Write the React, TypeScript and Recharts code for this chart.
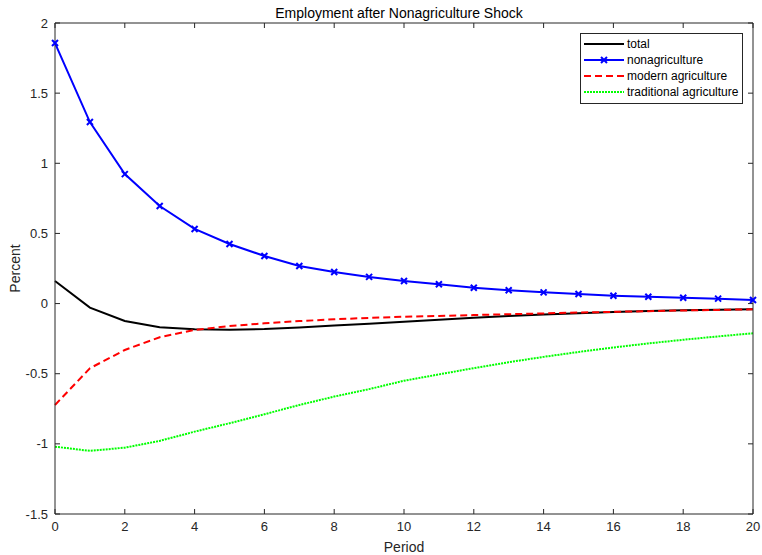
import React from 'react';
import { LineChart, Line, XAxis, YAxis, Legend } from 'recharts';

const periods = [0, 1, 2, 3, 4, 5, 6, 7, 8, 9, 10, 11, 12, 13, 14, 15, 16, 17, 18, 19, 20];
const total = [0.161, -0.029, -0.124, -0.169, -0.183, -0.186, -0.181, -0.17, -0.157, -0.143, -0.129, -0.115, -0.101, -0.089, -0.078, -0.069, -0.06, -0.053, -0.048, -0.044, -0.041];
const nonagriculture = [1.857, 1.294, 0.923, 0.695, 0.532, 0.425, 0.339, 0.268, 0.225, 0.19, 0.161, 0.138, 0.113, 0.095, 0.08, 0.068, 0.056, 0.049, 0.042, 0.035, 0.026];
const modernAgriculture = [-0.723, -0.461, -0.331, -0.24, -0.188, -0.16, -0.141, -0.125, -0.112, -0.102, -0.094, -0.088, -0.082, -0.076, -0.07, -0.064, -0.059, -0.054, -0.049, -0.045, -0.041];
const traditionalAgriculture = [-1.02, -1.05, -1.027, -0.979, -0.913, -0.853, -0.789, -0.723, -0.663, -0.61, -0.55, -0.505, -0.46, -0.418, -0.38, -0.345, -0.313, -0.284, -0.258, -0.234, -0.212];

const xTicks = [0, 2, 4, 6, 8, 10, 12, 14, 16, 18, 20];
const yTicks = [-1.5, -1, -0.5, 0, 0.5, 1, 1.5, 2];

const data = periods.map((p, i) => ({
    period: p,
    total: total[i],
    nonag: nonagriculture[i],
    modern: modernAgriculture[i],
    trad: traditionalAgriculture[i],
}));

const series = [
    { key: 'total', name: 'total', color: '#000000', dash: undefined as string | undefined, marker: false },
    { key: 'nonag', name: 'nonagriculture', color: '#0000ff', dash: undefined, marker: true },
    { key: 'modern', name: 'modern agriculture', color: '#ff0000', dash: '7 4', marker: false },
    { key: 'trad', name: 'traditional agriculture', color: '#00ff00', dash: '2 1', marker: false },
];

const FONT = 'Liberation Sans, Arial, Helvetica, sans-serif';
const AXIS = '#262626';

function XMark(props: any) {
    const { cx, cy, stroke } = props;
    if (cx == null || cy == null) return null;
    const s = 3;
    return (
        <path
            d={`M${cx - s},${cy - s}L${cx + s},${cy + s}M${cx - s},${cy + s}L${cx + s},${cy - s}`}
            stroke={stroke}
            strokeWidth={2}
            fill="none"
        />
    );
}

function MatlabLegend() {
    return (
        <div style={{ border: '1px solid #262626', background: '#fff', padding: '2px 4px 3px 3px', fontFamily: FONT, fontSize: 12, color: '#000' }}>
            {series.map(s => (
                <div key={s.key} style={{ display: 'flex', alignItems: 'center', height: 16 }}>
                    <svg width={40} height={10} style={{ marginRight: 3 }}>
                        <line x1={0} y1={5} x2={40} y2={5} stroke={s.color} strokeWidth={2} strokeDasharray={s.dash} />
                        {s.marker && <XMark cx={20} cy={5} stroke={s.color} />}
                    </svg>
                    <span>{s.name}</span>
                </div>
            ))}
        </div>
    );
}

export default function App() {
    const tickStyle = { fill: AXIS, fontSize: 13, fontFamily: FONT };
    return (
        <div style={{ position: 'absolute', left: 0, top: 0, width: 762, height: 555, background: '#fff' }}>
            <LineChart width={762} height={555} data={data} margin={{ top: 23, right: 9, left: 0, bottom: 0 }}>
                <XAxis
                    dataKey="period"
                    type="number"
                    domain={[0, 20]}
                    ticks={xTicks}
                    height={41}
                    tickSize={-5}
                    tickMargin={13}
                    stroke={AXIS}
                    tick={tickStyle}
                    label={{ value: 'Period', position: 'insideBottom', offset: 3, fill: AXIS, fontSize: 14, fontFamily: FONT }}
                />
                <XAxis
                    xAxisId="top"
                    dataKey="period"
                    orientation="top"
                    type="number"
                    domain={[0, 20]}
                    ticks={xTicks}
                    mirror
                    height={1}
                    tickSize={5}
                    stroke={AXIS}
                    tickFormatter={() => ''}
                    label={{ value: 'Employment after Nonagriculture Shock', position: 'top', offset: 5, dx: -5, fill: '#000', fontSize: 14, fontFamily: FONT }}
                />
                <YAxis
                    type="number"
                    domain={[-1.5, 2]}
                    ticks={yTicks}
                    width={55}
                    tickSize={-5}
                    tickMargin={12}
                    stroke={AXIS}
                    tick={tickStyle}
                    label={{ value: 'Percent', angle: -90, position: 'insideLeft', offset: 15, fill: AXIS, fontSize: 14, fontFamily: FONT, style: { textAnchor: 'middle' } }}
                />
                <YAxis yAxisId="right" orientation="right" type="number" domain={[-1.5, 2]} ticks={yTicks} mirror width={1} tickSize={5} stroke={AXIS} tickFormatter={() => ''} />
                <Legend
                    verticalAlign="middle"
                    layout="horizontal"
                    content={() => <MatlabLegend />}
                    wrapperStyle={{ left: 580, top: 33, width: 'auto' }}
                />
                {series.map(s => (
                    <Line
                        key={s.key}
                        type="linear"
                        dataKey={s.key}
                        name={s.name}
                        stroke={s.color}
                        strokeWidth={2}
                        strokeDasharray={s.dash}
                        dot={s.marker ? (p: any) => <XMark key={p.index} cx={p.cx} cy={p.cy} stroke={s.color} /> : false}
                        activeDot={false}
                        isAnimationActive={false}
                    />
                ))}
                <Line xAxisId="top" yAxisId="right" dataKey="total" stroke="none" dot={false} activeDot={false} legendType="none" isAnimationActive={false} />
            </LineChart>
        </div>
    );
}
